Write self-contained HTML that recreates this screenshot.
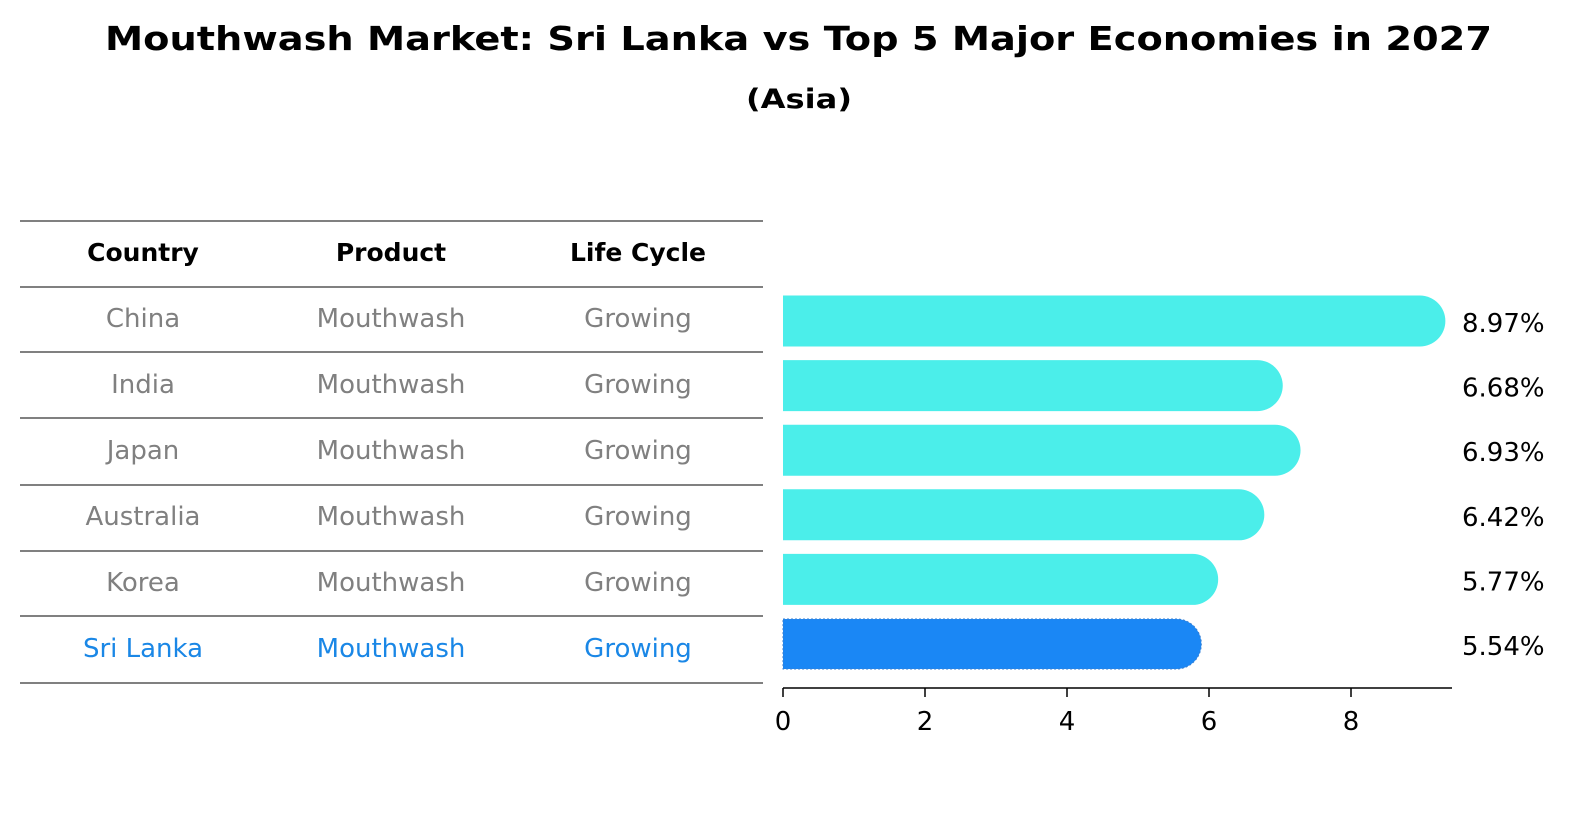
<!DOCTYPE html>
<html><head><meta charset="utf-8"><style>
body{margin:0;background:#fff;width:1586px;height:823px;overflow:hidden}
</style></head><body>
<svg width="1586" height="823" style="font-family:'DejaVu Sans','Liberation Sans',sans-serif">
<text x="105" y="50" font-size="33" font-weight="bold" textLength="1387" lengthAdjust="spacingAndGlyphs">Mouthwash Market: Sri Lanka vs Top 5 Major Economies in 2027</text>
<text x="746" y="108" font-size="27" font-weight="bold" textLength="106" lengthAdjust="spacingAndGlyphs">(Asia)</text>
<g id="table"></g>
<g id="bars"></g>
</svg>
<script>
const countries=["China","India","Japan","Australia","Korea","Sri Lanka"];
const values=[8.97,6.68,6.93,6.42,5.77,5.54];
const valueLabels=["8.97%","6.68%","6.93%","6.42%","5.77%","5.54%"];
const ticks=[0,2,4,6,8];
const NS="http://www.w3.org/2000/svg";
function mk(t,a,p,txt){const e=document.createElementNS(NS,t);for(const k in a)e.setAttribute(k,a[k]);if(txt!==undefined)e.textContent=txt;p.appendChild(e);return e;}
const x=v=>783+v*71;
const rowY=i=>321+i*64.6;
const tbl=document.getElementById('table');
const lines=[221,287,352,418,485,551,616,683];
lines.forEach((ly)=>{const l=mk('line',{x1:20,x2:763,y1:ly,y2:ly,stroke:'#000','stroke-width':1},tbl);

});
const cols=[143,391,638];
["Country","Product","Life Cycle"].forEach((h,j)=>{const t=mk('text',{x:cols[j],y:261,'text-anchor':'middle','font-size':25,'font-weight':'bold'},tbl,h);

});
countries.forEach((c,i)=>{const cy=[318,384,450,516,582,648][i]+9;const col=c==="Sri Lanka"?'#1a87e6':'#808080';
[c,"Mouthwash","Growing"].forEach((v,j)=>{const t=mk('text',{x:cols[j],y:cy,'text-anchor':'middle','font-size':26,fill:col},tbl,v);

});});
const g=document.getElementById('bars');
values.forEach((v,i)=>{const cy=rowY(i);const sl=i===values.length-1;const h=sl?50:51;const r=h/2;
const x0=x(0),x1=x(v);
const d=`M${x0},${cy-r} L${x1},${cy-r} A${r},${r} 0 0 1 ${x1},${cy+r} L${x0},${cy+r} Z`;
const p=mk('path',{d:d,fill:sl?'#1a87f5':'#4beeea'},g);
if(sl){p.setAttribute('stroke','#3a7fd0');p.setAttribute('stroke-dasharray','2,2');p.setAttribute('stroke-width','1');}


const t=mk('text',{x:1462,y:cy+11,'font-size':26},g,valueLabels[i]);

});
const ax=mk('line',{x1:783,x2:1452,y1:688,y2:688,stroke:'#000','stroke-width':1.5},g);


ticks.forEach(tv=>{const tk=mk('line',{x1:x(tv),x2:x(tv),y1:688,y2:697,stroke:'#000','stroke-width':1.5},g);


const t=mk('text',{x:x(tv),y:730,'text-anchor':'middle','font-size':26},g,String(tv));

});
</script>
</body></html>
